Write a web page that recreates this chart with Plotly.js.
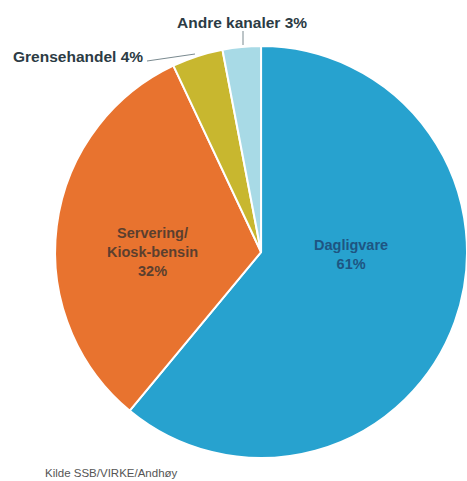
<!DOCTYPE html>
<html><head><meta charset="utf-8">
<script src="https://cdn.plot.ly/plotly-3.0.1.min.js"></script>
<style>html,body{margin:0;padding:0;background:#fff;}#chart{width:467px;height:481px;}</style>
</head><body><div id="chart"></div>
<script>
const labels = ["Dagligvare", "Servering/<br>Kiosk-bensin", "Grensehandel", "Andre kanaler"];
const values = [61, 32, 4, 3];
const colors = ["#27a2cf", "#e8732f", "#c8b72f", "#a8dae6"];
const source = "Kilde SSB/VIRKE/Andhøy";

const W = 467, H = 481;
function px(x){return x / W;}
function py(y){return 1 - y / H;}

const trace = {
  type: "pie",
  labels: labels,
  values: values,
  sort: false,
  direction: "clockwise",
  rotation: 0,
  textinfo: "none",
  hoverinfo: "label+percent",
  marker: {colors: colors, line: {color: "#ffffff", width: 2}},
  domain: {x: [0.118, 1], y: [0.046, 0.906]}
};

const boldFont = "Liberation Sans, Arial, sans-serif";
const annotations = [
  {x: px(351), y: py(254), text: "<b>" + labels[0] + "<br>" + values[0] + "%</b>",
   font: {family: boldFont, size: 14.5, color: "#1e5582"}},
  {x: px(152), y: py(252), text: "<b>" + labels[1] + "<br>" + values[1] + "%</b>",
   font: {family: boldFont, size: 14.5, color: "#5b3f2e"}},
  {x: px(78), y: py(57), text: "<b>" + labels[2] + " " + values[2] + "%</b>",
   font: {family: boldFont, size: 15.5, color: "#2c3b44"}},
  {x: px(242), y: py(22), text: "<b>" + labels[3] + " " + values[3] + "%</b>",
   font: {family: boldFont, size: 15.5, color: "#2c3b44"}},
  {x: px(43), y: py(473), xanchor: "left", text: source,
   font: {family: "Liberation Sans, Arial, sans-serif", size: 11.5, color: "#555555"}}
].map(a => Object.assign({xref: "paper", yref: "paper", showarrow: false, xanchor: "center", yanchor: "middle"}, a));

const shapes = [
  {type: "line", xref: "paper", yref: "paper", x0: px(147), y0: py(61), x1: px(195), y1: py(54),
   line: {color: "#7a8a90", width: 1}},
  {type: "line", xref: "paper", yref: "paper", x0: px(243), y0: py(31), x1: px(243), y1: py(45),
   line: {color: "#7a8a90", width: 1}}
];

const layout = {
  width: W, height: H,
  margin: {l: 0, r: 0, t: 0, b: 0},
  paper_bgcolor: "#ffffff",
  showlegend: false,
  annotations: annotations,
  shapes: shapes
};
Plotly.newPlot("chart", [trace], layout, {displayModeBar: false, staticPlot: true});
</script></body></html>
